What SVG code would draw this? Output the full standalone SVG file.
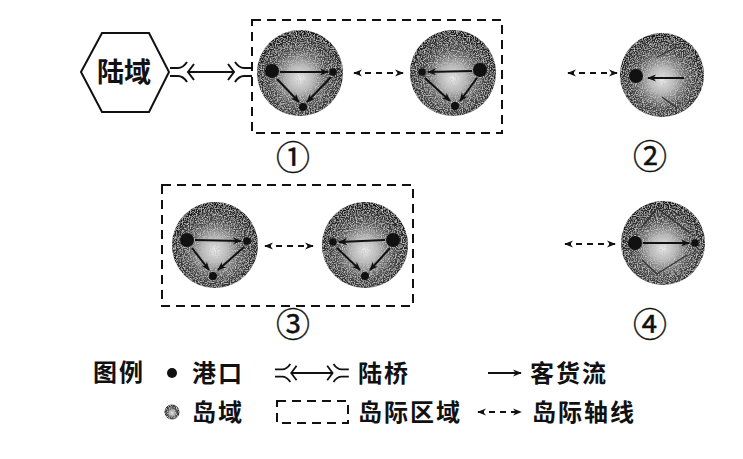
<svg xmlns="http://www.w3.org/2000/svg" xmlns:xlink="http://www.w3.org/1999/xlink" width="743" height="459" viewBox="0 0 743 459">
<style>
.t{font-family:"Noto Sans CJK SC","Liberation Sans",sans-serif;fill:#111;font-weight:bold}
.lg{font-size:24px;letter-spacing:2px}
.num{font-size:34px;text-anchor:middle;font-weight:normal;stroke:#111;stroke-width:0.4}
.box{fill:none;stroke:#111;stroke-width:2;stroke-dasharray:9 6}
.isl{fill:url(#ig);filter:url(#grain)}
.port{fill:#111}
.flow{fill:none;stroke:#111;stroke-width:2;marker-end:url(#ah)}
.faint{fill:none;stroke:#333;stroke-width:1.3}
.axis{fill:none;stroke:#111;stroke-width:2;stroke-dasharray:6 5;marker-start:url(#ax);marker-end:url(#ax)}
.br{fill:none;stroke:#111;stroke-width:2}
</style>
<defs>
<radialGradient id="ig" cx="0.5" cy="0.56" r="0.55">
<stop offset="0" stop-color="#ececec"/>
<stop offset="0.28" stop-color="#b4b4b4"/>
<stop offset="0.6" stop-color="#4e4e4e"/>
<stop offset="1" stop-color="#141414"/>
</radialGradient>
<filter id="grain" x="-5%" y="-5%" width="110%" height="110%">
<feTurbulence type="fractalNoise" baseFrequency="0.85" numOctaves="2" seed="4" result="n"/>
<feColorMatrix in="n" type="matrix" values="0 0 0 0 0.55  0 0 0 0 0.55  0 0 0 0 0.55  0 0 0 -3 1.7" result="d"/>
<feComposite in="d" in2="SourceGraphic" operator="in" result="d2"/>
<feMerge><feMergeNode in="SourceGraphic"/><feMergeNode in="d2"/></feMerge>
</filter>
<marker id="ah" viewBox="0 0 10 10" refX="9" refY="5" markerWidth="9" markerHeight="9" orient="auto" markerUnits="userSpaceOnUse">
<path d="M0,1 L10,5 L0,9 L3,5 z" fill="#111"/>
</marker>
<marker id="ax" viewBox="0 0 10 10" refX="9" refY="5" markerWidth="9" markerHeight="9" orient="auto-start-reverse" markerUnits="userSpaceOnUse">
<path d="M0,1 L10,5 L0,9 L3,5 z" fill="#111"/>
</marker>
<g id="bridge">
<path class="br" d="M0,-4 H8 Q13,-4 17,-10 M0,4 H8 Q13,4 17,10 M24,-8 L18,0 L24,8 M18,0 H64 M58,-8 L64,0 L58,8 M65,-10 Q69,-4 74,-4 H82 M65,10 Q69,4 74,4 H82"/>
</g>
</defs>
<rect width="743" height="459" fill="#fff"/>

<g id="land">
<polygon points="81,72 102,33 149,33 169,72 149,112 102,112" fill="#fff" stroke="#111" stroke-width="2"/>
<text class="t" x="124" y="82" font-size="27" text-anchor="middle">陆域</text>
</g>

<g id="region1"><rect class="box" x="252" y="20" width="250" height="113"/></g>
<g id="region3"><rect class="box" x="162" y="185" width="251" height="121"/></g>

<g id="island1a">
<circle class="isl" cx="300" cy="73" r="43"/>
<circle class="port" cx="272" cy="71" r="7"/>
<circle class="port" cx="333" cy="72" r="3.8"/>
<circle class="port" cx="303" cy="107" r="4"/>
</g>
<g id="island1b">
<circle class="isl" cx="453" cy="73" r="43"/>
<circle class="port" cx="480" cy="70" r="7"/>
<circle class="port" cx="422" cy="72" r="3.8"/>
<circle class="port" cx="455" cy="106" r="4"/>
</g>
<g id="island2">
<circle class="isl" cx="662" cy="75" r="42"/>
<circle class="port" cx="636" cy="76" r="7"/>
</g>
<g id="island3a">
<circle class="isl" cx="215" cy="245" r="43"/>
<circle class="port" cx="187" cy="240" r="7"/>
<circle class="port" cx="247" cy="241" r="3.8"/>
<circle class="port" cx="213" cy="276" r="4"/>
</g>
<g id="island3b">
<circle class="isl" cx="365" cy="245" r="43"/>
<circle class="port" cx="393" cy="240" r="7"/>
<circle class="port" cx="333" cy="242" r="3.8"/>
<circle class="port" cx="365" cy="276" r="4"/>
</g>
<g id="island4">
<circle class="isl" cx="663" cy="243" r="42"/>
<circle class="port" cx="635" cy="243" r="7"/>
<circle class="port" cx="695" cy="243" r="3.8"/>
</g>

<g id="labels">
<text class="t num" x="293" y="170">①</text>
<text class="t num" x="650" y="169">②</text>
<text class="t num" x="293" y="337">③</text>
<text class="t num" x="650" y="337">④</text>
</g>

<g id="connectors">
<use href="#bridge" x="170" y="72"/>
<path class="axis" d="M354,73 H403"/>
<path class="axis" d="M568,73 H617"/>
<path class="axis" d="M265,246 H313"/>
<path class="axis" d="M565,244 H615"/>
<path class="flow" d="M280,72 H328"/>
<path class="flow" d="M277,79 L299,102"/>
<path class="flow" d="M331,77 L307,102"/>
<path class="flow" d="M472,71 L428,72"/>
<path class="flow" d="M425,78 L450,101"/>
<path class="flow" d="M477,78 L460,101"/>
<path class="flow" d="M684,78 H648"/>
<path class="faint" d="M677,47 L657,57 M662,97 L677,108"/>
<path class="flow" d="M195,240 L241,241"/>
<path class="flow" d="M192,248 L209,270"/>
<path class="flow" d="M244,247 L218,270"/>
<path class="flow" d="M385,240 L339,242"/>
<path class="flow" d="M337,248 L360,270"/>
<path class="flow" d="M390,248 L370,270"/>
<path class="flow" d="M643,243 H689"/>
<path class="faint" d="M642,227 L657,208 L690,233 M642,260 L657,274 L687,255"/>
</g>

<g id="legend">
<text class="t lg" x="93" y="381">图例</text>
<circle class="port" cx="172" cy="373" r="5"/>
<text class="t lg" x="192" y="382">港口</text>
<use href="#bridge" transform="translate(275,373) scale(0.9)"/>
<text class="t lg" x="358" y="382">陆桥</text>
<path class="flow" d="M488,373 H521"/>
<text class="t lg" x="530" y="382">客货流</text>
<circle class="isl" cx="172" cy="412" r="7.5"/>
<text class="t lg" x="192" y="421">岛域</text>
<rect class="box" x="277" y="401" width="71" height="22" stroke-dasharray="6 5" stroke-width="1.6"/>
<text class="t lg" x="358" y="421">岛际区域</text>
<path class="axis" d="M478,412 H521"/>
<text class="t lg" x="532" y="421">岛际轴线</text>
</g>
</svg>
